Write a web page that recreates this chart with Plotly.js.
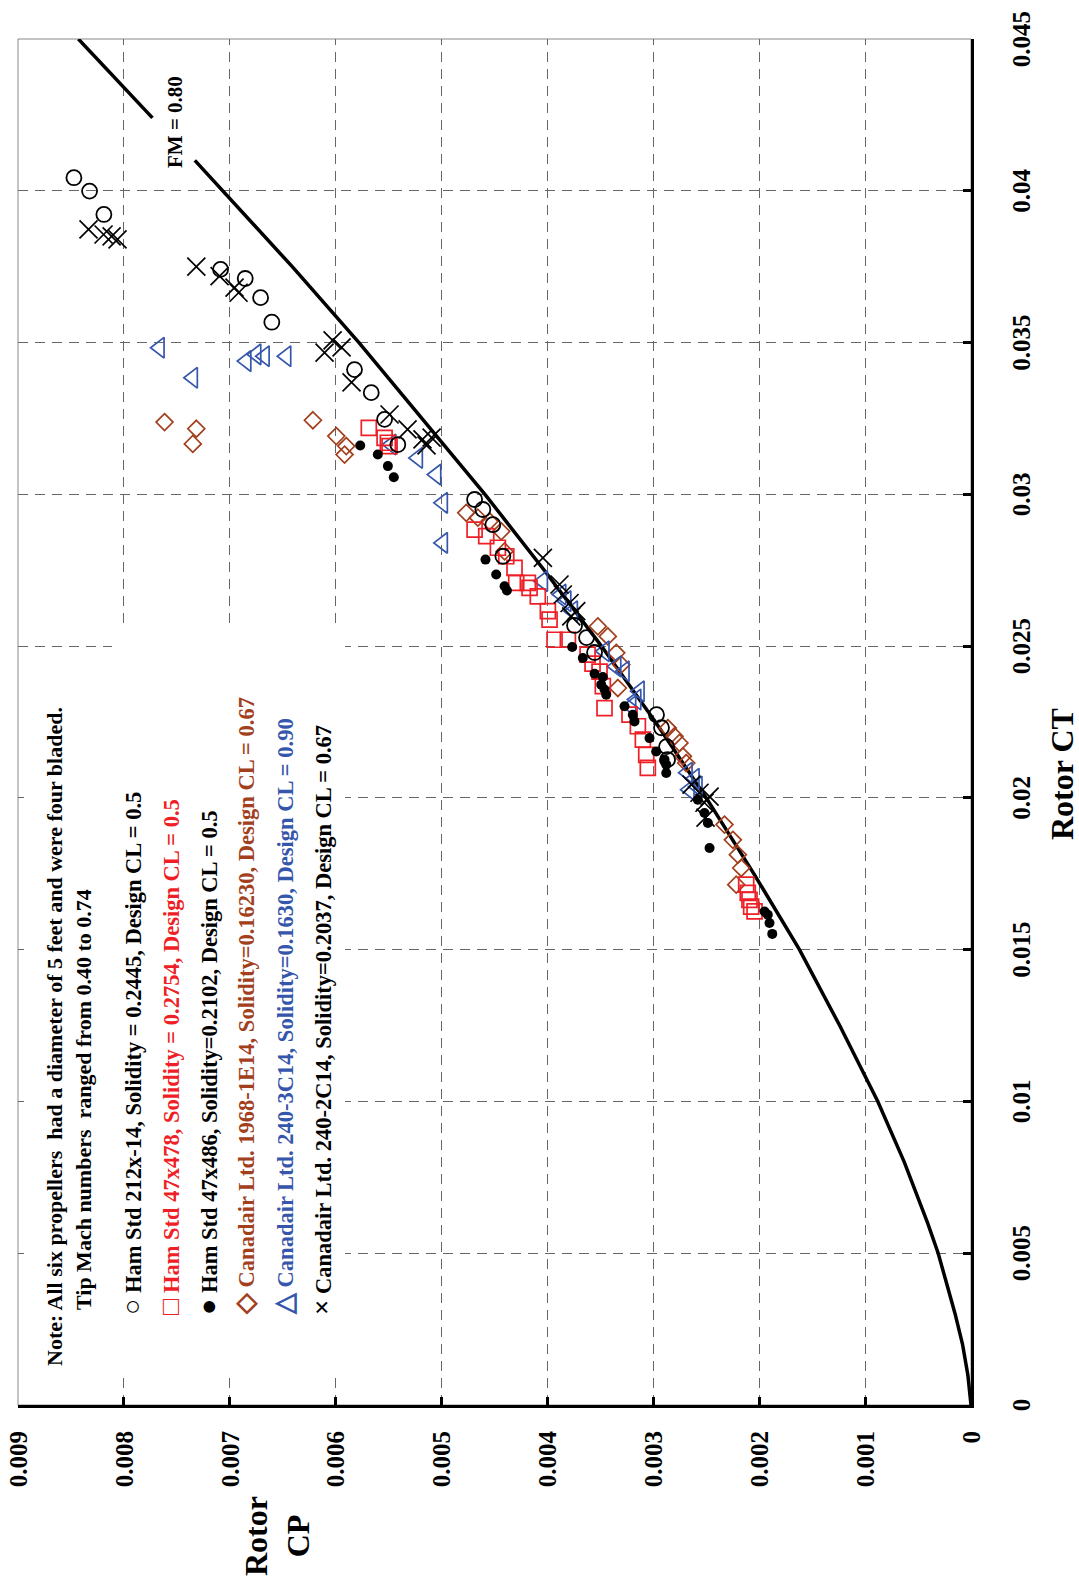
<!DOCTYPE html>
<html><head><meta charset="utf-8">
<script src="https://cdn.plot.ly/plotly-3.0.1.min.js"></script>
<style>
html,body{margin:0;padding:0;width:1079px;height:1581px;overflow:hidden;background:#fff;}
#chart{position:absolute;left:0;top:0;width:1581px;height:1079px;transform-origin:0 0;transform:translateY(1581px) rotate(-90deg);}
</style></head><body><div id="chart"></div>
<script>
// ---- data (Rotor CT, Rotor CP) ----
const hs212CT = [0.04043,0.03999,0.03922,0.03741,0.03711,0.03648,0.03567,0.03411,0.03335,0.03247,0.03164,0.02983,0.02950,0.02900,0.02796,0.02568,0.02528,0.02479,0.02274,0.02231,0.02169,0.02126];
const hs212CP = [0.008472,0.008324,0.008189,0.007087,0.006854,0.006709,0.006603,0.005822,0.005664,0.005538,0.005413,0.004688,0.004610,0.004516,0.004421,0.003744,0.003631,0.003555,0.002970,0.002923,0.002875,0.002866];

const hs478CT = [0.03219,0.03186,0.03170,0.03159,0.02884,0.02862,0.02824,0.02796,0.02758,0.02708,0.02708,0.02692,0.02664,0.02615,0.02587,0.02521,0.02521,0.02472,0.02442,0.02416,0.02368,0.02296,0.02274,0.02236,0.02192,0.02142,0.02099,0.01714,0.01687,0.01664,0.01642,0.01626];
const hs478CP = [0.005687,0.005538,0.005507,0.005491,0.004688,0.004578,0.004468,0.004389,0.004311,0.004295,0.004185,0.004169,0.004091,0.003996,0.003980,0.003933,0.003807,0.003621,0.003574,0.003508,0.003477,0.003461,0.003225,0.003146,0.003099,0.003067,0.003052,0.002123,0.002108,0.002092,0.002076,0.002044];

const hs486CT = [0.03161,0.03131,0.03093,0.03056,0.02785,0.02736,0.02697,0.02683,0.02497,0.02461,0.02409,0.02398,0.02373,0.02357,0.02340,0.02302,0.02274,0.02252,0.02197,0.02153,0.02126,0.02109,0.02082,0.01994,0.01950,0.01917,0.01835,0.01626,0.01615,0.01588,0.01552];
const hs486CP = [0.005768,0.005602,0.005507,0.005451,0.004585,0.004484,0.004405,0.004383,0.003766,0.003666,0.003555,0.003477,0.003492,0.003461,0.003445,0.003272,0.003194,0.003178,0.003036,0.002973,0.002894,0.002878,0.002878,0.002580,0.002517,0.002485,0.002469,0.001950,0.001919,0.001903,0.001877];

const ca1E14CT = [0.03238,0.03216,0.03166,0.03244,0.03192,0.03159,0.03131,0.02939,0.02923,0.02911,0.02878,0.02812,0.02565,0.02532,0.02478,0.02439,0.02362,0.02230,0.02203,0.02181,0.02137,0.02115,0.01912,0.01862,0.01813,0.01769,0.01714];
const ca1E14CP = [0.007616,0.007316,0.007349,0.006215,0.005994,0.005900,0.005916,0.004767,0.004657,0.004547,0.004436,0.004405,0.003524,0.003430,0.003350,0.003303,0.003335,0.002863,0.002800,0.002753,0.002721,0.002689,0.002328,0.002249,0.002202,0.002170,0.002217];

const ca3C14CT = [0.03483,0.03384,0.03439,0.03461,0.03455,0.03455,0.03164,0.03120,0.03065,0.02972,0.02840,0.02714,0.02670,0.02648,0.02615,0.02483,0.02433,0.02417,0.02351,0.02324,0.02302,0.02083,0.02063,0.02037,0.02027];
const ca3C14CP = [0.007663,0.007349,0.006844,0.006750,0.006671,0.006467,0.005475,0.005224,0.005050,0.004988,0.004988,0.004043,0.003870,0.003822,0.003760,0.003461,0.003350,0.003272,0.003130,0.003161,0.003209,0.002677,0.002611,0.002583,0.002658];

const ca2C14CT = [0.03873,0.03856,0.03850,0.03840,0.03750,0.03719,0.03681,0.03664,0.03467,0.03507,0.03484,0.03369,0.03263,0.03214,0.03181,0.03161,0.03187,0.02791,0.02703,0.02670,0.02642,0.02615,0.02598,0.02044,0.02017,0.01984,0.02004,0.01935];
const ca2C14CP = [0.008334,0.008192,0.008116,0.008060,0.007316,0.007096,0.006955,0.006917,0.006105,0.006029,0.005944,0.005850,0.005491,0.005321,0.005180,0.005142,0.005094,0.004043,0.003886,0.003855,0.003791,0.003728,0.003775,0.002639,0.002564,0.002517,0.002469,0.002507];

// FM = 0.80 line (gap where the label sits)
const fmCT = [0,0.001,0.002,0.003,0.004,0.005,0.006,0.008,0.010,0.0125,0.015,0.0175,0.020,0.0225,0.025,0.0275,0.030,0.0325,0.035,0.0375,0.0410,null,0.0424,0.045];
const fmCP = [0,0.00003,0.00008,0.00015,0.00023,0.00031,0.00041,0.00063,0.00088,0.00124,0.00162,0.00205,0.00250,0.00298,0.00349,0.00403,0.00459,0.00518,0.00578,0.00641,0.00733,null,0.00773,0.00843];

const ctTicks = [0,0.005,0.01,0.015,0.02,0.025,0.03,0.035,0.04,0.045];
const cpTicks = [0,0.001,0.002,0.003,0.004,0.005,0.006,0.007,0.008,0.009];

const noteLines = ["Note: All six propellers  had a diameter of 5 feet and were four bladed.",
                   "Tip Mach numbers  ranged from 0.40 to 0.74"];
const legendSymbols = ["○", "□", "●", "◇", "△", "×"];
const legendLabels = ["Ham Std 212x-14, Solidity = 0.2445, Design CL = 0.5",
                      "Ham Std 47x478, Solidity = 0.2754, Design CL = 0.5",
                      "Ham Std 47x486, Solidity=0.2102, Design CL = 0.5",
                      "Canadair Ltd. 1968-1E14, Solidity=0.16230, Design CL = 0.67",
                      "Canadair Ltd. 240-3C14, Solidity=0.1630, Design CL = 0.90",
                      "Canadair Ltd. 240-2C14, Solidity=0.2037, Design CL = 0.67"];

// ---- styling ----
const RED = '#ee1f26', BROWN = '#a23f1d', BLUE = '#3556ab', BLACK = '#000000';
const legendColors = [BLACK, RED, BLACK, BROWN, BLUE, BLACK];
const SERIF = 'Liberation Serif, Times New Roman, serif';

const W = 1581, H = 1079, L = 176, R = 39, T = 18, B = 108;
const PW = W - L - R, PH = H - T - B;
function px(xo){ return (xo - L) / PW; }
function py(yo){ return (H - B - yo) / PH; }

function pts(ct, cp, symbol, color, size, lw){
  return {type:'scatter', mode:'markers', x:ct, y:cp, showlegend:false, hoverinfo:'skip',
    marker:{symbol:symbol, size:size, color:color, line:{color:color, width:lw}}};
}
const traces = [
  {type:'scatter', mode:'lines', x:fmCT, y:fmCP, connectgaps:false, showlegend:false, hoverinfo:'skip',
   line:{color:'#000', width:3.5}},
  pts(ca1E14CT, ca1E14CP, 'diamond-open', BROWN, 13, 1.7),
  pts(ca3C14CT, ca3C14CP, 'triangle-up-open', BLUE, 18, 1.7),
  pts(hs478CT, hs478CP, 'square-open', RED, 15, 1.7),
  pts(hs486CT, hs486CP, 'circle', BLACK, 10, 0),
  pts(hs212CT, hs212CP, 'circle-open', BLACK, 15, 1.8),
  pts(ca2C14CT, ca2C14CP, 'x-thin-open', BLACK, 18, 1.7)
];

const annotations = [];
const noteX = [213, 269], noteY = [54, 84];
noteLines.forEach((t,i)=>annotations.push({xref:'paper', yref:'paper', x:px(noteX[i]), y:py(noteY[i]),
  xanchor:'left', yanchor:'middle', showarrow:false, text:t,
  font:{family:SERIF, size:22, color:'#000', weight:'bold'}}));
const legY = [132, 170, 208, 245, 284, 322];
legendLabels.forEach((t,i)=>annotations.push({xref:'paper', yref:'paper', x:px(264), y:py(legY[i]),
  xanchor:'left', yanchor:'middle', showarrow:false,
  text:'<span style="font-size:27px">' + legendSymbols[i] + '</span> ' + t,
  font:{family:SERIF, size:22.5, color:legendColors[i], weight:'bold'}}));
annotations.push({xref:'paper', yref:'paper', x:px(1459), y:py(175), xanchor:'center', yanchor:'middle',
  showarrow:false, text:'FM = 0.80', font:{family:SERIF, size:21, color:'#000', weight:'bold'}});
annotations.push({xref:'paper', yref:'paper', x:px(807), y:py(1062), xanchor:'center', yanchor:'middle',
  showarrow:false, text:'Rotor CT', font:{family:SERIF, size:32, color:'#000', weight:'bold'}});
annotations.push({xref:'paper', yref:'paper', x:px(45), y:py(277), xanchor:'center', yanchor:'middle',
  showarrow:false, align:'center', text:'Rotor<br>CP', font:{family:SERIF, size:32, color:'#000', weight:'bold'}});

const axisCommon = {
  showgrid:true, gridcolor:'#666', gridwidth:1.2, griddash:'10px,7px',
  showline:true, linecolor:'#000', linewidth:3, mirror:false,
  ticks:'inside', ticklen:8, tickwidth:3, tickcolor:'#000',
  tickfont:{family:SERIF, size:25, color:'#000', weight:'bold'},
  zeroline:false, exponentformat:'none', fixedrange:true, tickmode:'array'
};
const layout = {
  width:W, height:H, margin:{l:L, r:R, t:T, b:B, pad:0},
  paper_bgcolor:'#fff', plot_bgcolor:'#fff', showlegend:false,
  xaxis:Object.assign({}, axisCommon, {range:[0,0.045], tickvals:ctTicks, ticktext:ctTicks.map(String), ticklabelstandoff:26}),
  yaxis:Object.assign({}, axisCommon, {range:[0,0.009], tickvals:cpTicks, ticktext:cpTicks.map(String), ticklabelstandoff:18}),
  shapes:[
    {type:'rect', xref:'paper', yref:'paper', x0:0, x1:1, y0:0, y1:1, layer:'below', line:{color:'#888', width:1}},
    {type:'rect', xref:'paper', yref:'paper', x0:px(203), x1:px(953), y0:py(345), y1:py(112), layer:'above', fillcolor:'#fff', line:{width:0}},
    {type:'rect', xref:'paper', yref:'paper', x0:px(203), x1:px(929), y0:py(112), y1:py(24), layer:'above', fillcolor:'#fff', line:{width:0}}
  ],
  annotations:annotations
};
Plotly.newPlot('chart', traces, layout, {staticPlot:true, displayModeBar:false});
</script></body></html>
